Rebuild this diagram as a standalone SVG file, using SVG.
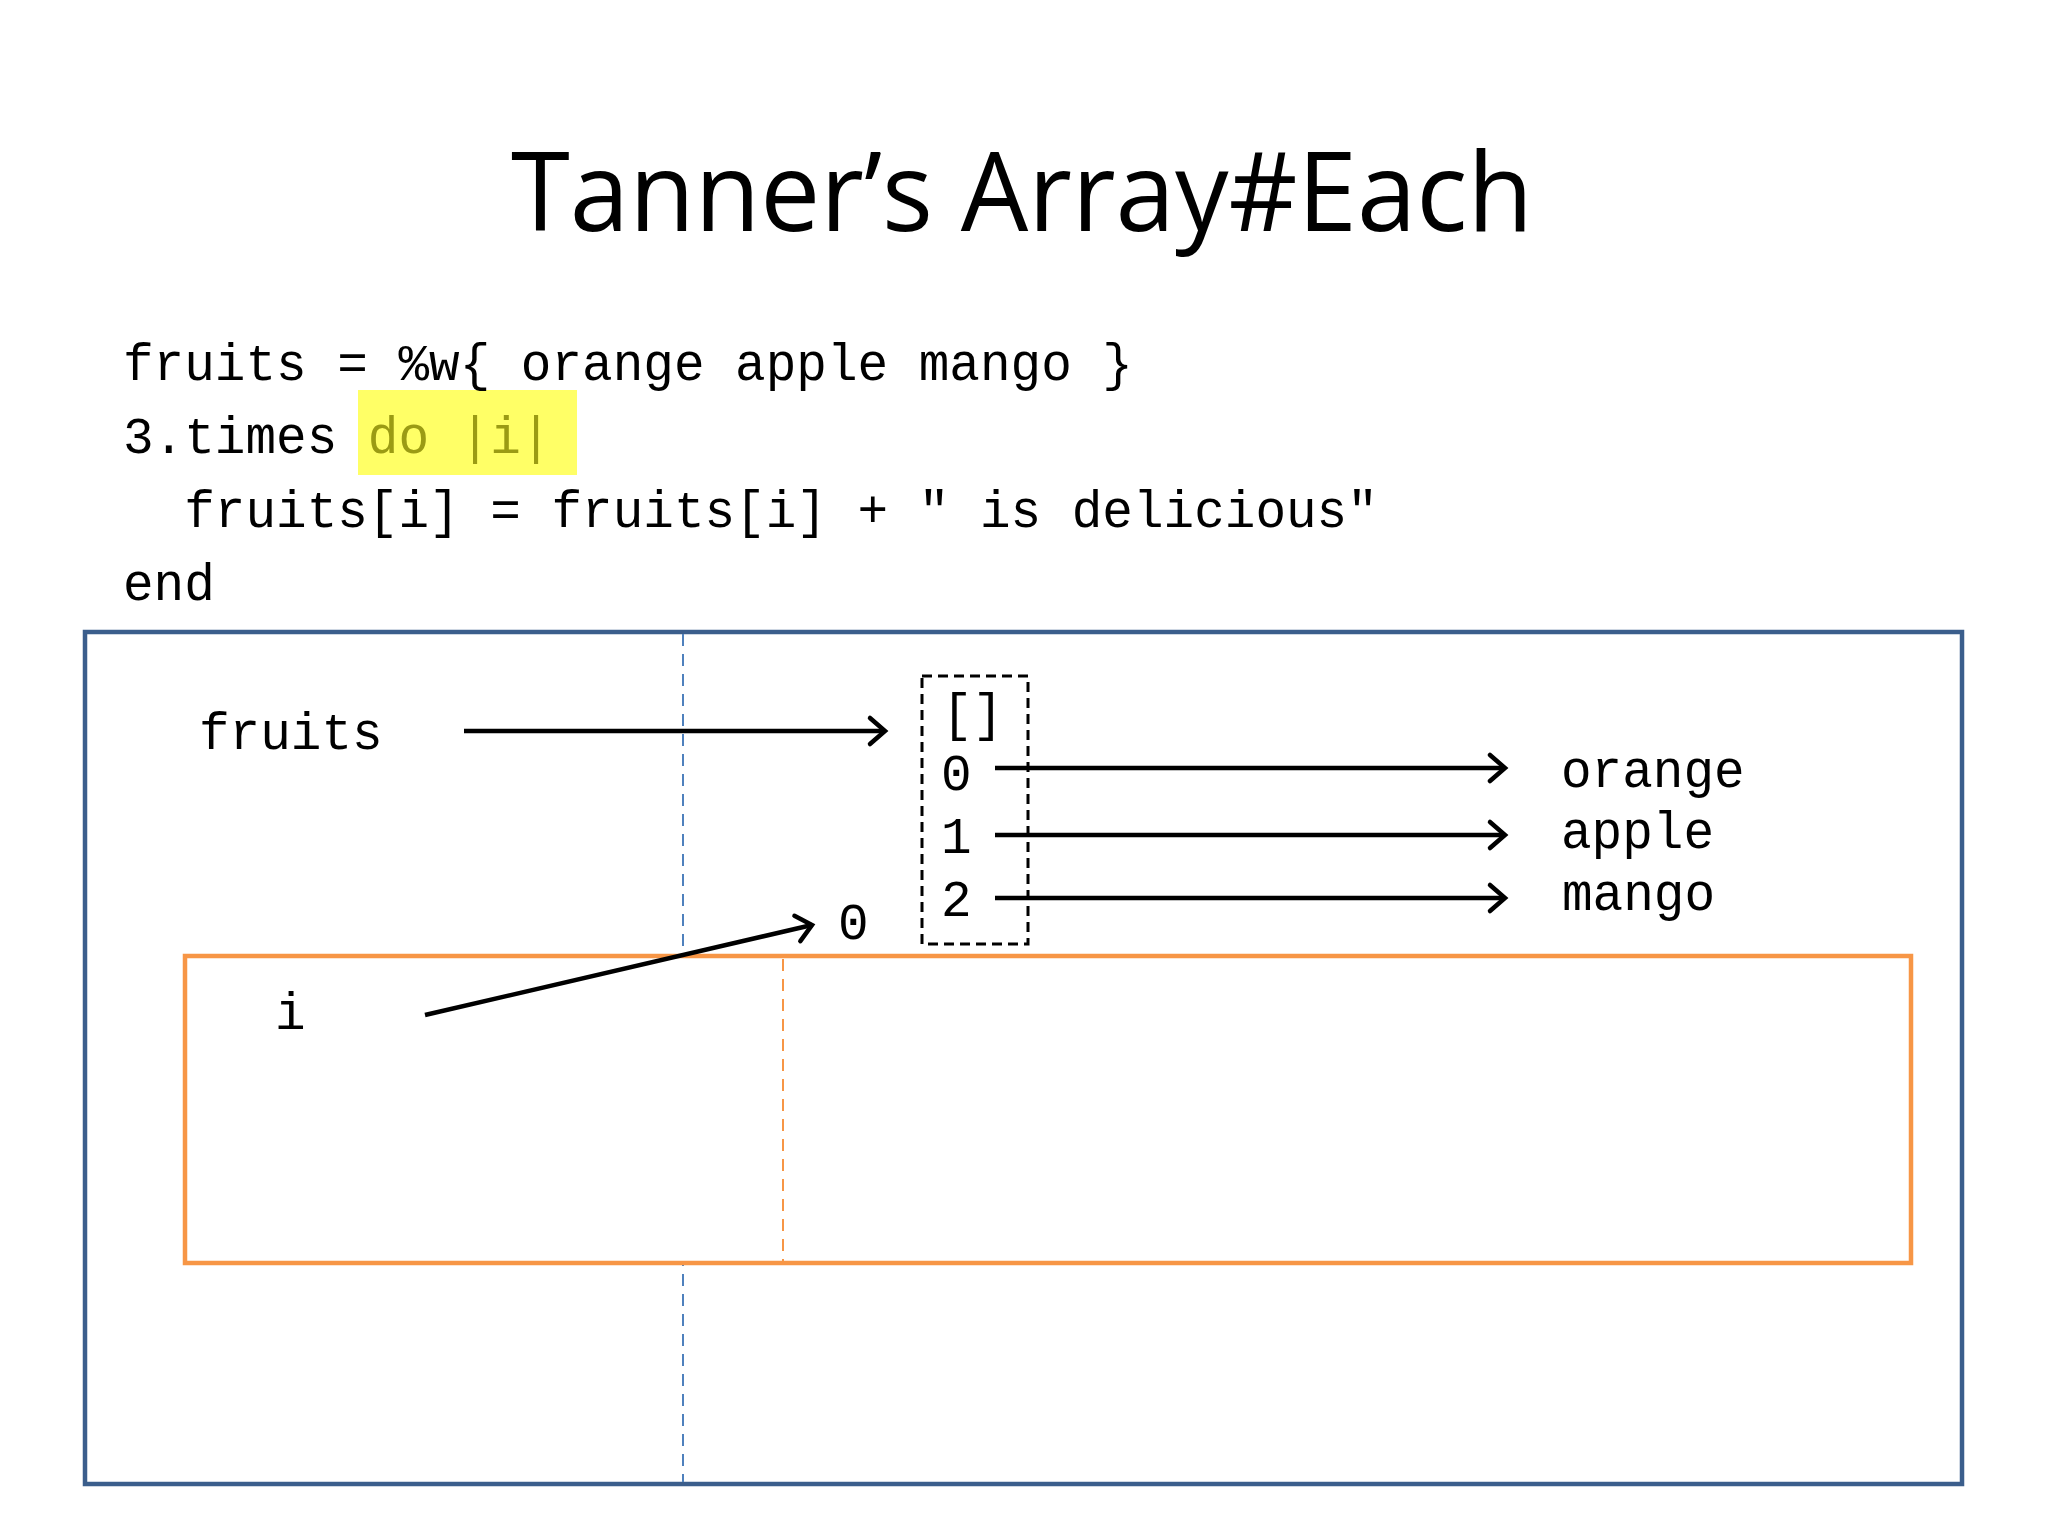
<svg xmlns="http://www.w3.org/2000/svg" width="2048" height="1536" viewBox="0 0 2048 1536">
<defs>
<style>
.mono{font-family:"Liberation Mono","Courier New",monospace;font-size:51px;fill:#000}
.arrow{stroke:#000;stroke-width:4.5;fill:none;marker-end:url(#head)}
</style>
<marker id="head" markerUnits="userSpaceOnUse" markerWidth="40" markerHeight="40" viewBox="-20 -20 40 40" refX="0" refY="0" orient="auto">
<path d="M-15,-13 L0,0 L-15,13" fill="none" stroke="#000" stroke-width="4.5" stroke-linecap="round" stroke-linejoin="miter"/>
</marker>
</defs>
<rect width="2048" height="1536" fill="#fff"/>
<g id="title">
<text x="1022" y="231" text-anchor="middle" font-family="Open Sans, Noto Sans, sans-serif" font-size="110" textLength="1022" lengthAdjust="spacingAndGlyphs" fill="#000">Tanner’s Array#Each</text>
</g>
<g id="code">
<rect x="358" y="390" width="219" height="85" fill="#FFFF66"/>
<text class="mono" x="123" y="380">fruits = %w{ orange apple mango }</text>
<text class="mono" x="123" y="453">3.times <tspan fill="#9B9B14">do |i|</tspan></text>
<text class="mono" x="123" y="527" xml:space="preserve">  fruits[i] = fruits[i] + " is delicious"</text>
<text class="mono" x="123" y="600">end</text>
</g>
<g id="outer-frame">
<rect x="85" y="632" width="1877" height="852" fill="#fff" stroke="#3B5E8C" stroke-width="4.5"/>
<line x1="683" y1="634" x2="683" y2="1482" stroke="#4F81BD" stroke-width="2" stroke-dasharray="12 8"/>
</g>
<g id="block-frame">
<rect x="185" y="956" width="1726" height="307" fill="#fff" stroke="#F79646" stroke-width="4.5"/>
<line x1="783" y1="959" x2="783" y2="1261" stroke="#F79646" stroke-width="2" stroke-dasharray="12 8"/>
</g>
<g id="node-fruits">
<text class="mono" x="199" y="749">fruits</text>
</g>
<g id="node-array">
<rect x="922" y="676" width="106" height="268" fill="none" stroke="#000" stroke-width="3" stroke-dasharray="10 6"/>
<text class="mono" x="942" y="730">[]</text>
<text class="mono" x="941" y="790">0</text>
<text class="mono" x="941" y="853">1</text>
<text class="mono" x="941" y="916">2</text>
</g>
<g id="node-orange"><text class="mono" x="1561" y="787">orange</text></g>
<g id="node-apple"><text class="mono" x="1561" y="848">apple</text></g>
<g id="node-mango"><text class="mono" x="1562" y="910">mango</text></g>
<g id="node-i"><text class="mono" x="275" y="1029">i</text></g>
<g id="node-zero"><text class="mono" x="838" y="939">0</text></g>
<g id="connectors">
<line class="arrow" x1="464" y1="731" x2="885" y2="731"/>
<line class="arrow" x1="995" y1="768" x2="1505" y2="768"/>
<line class="arrow" x1="995" y1="835" x2="1505" y2="835"/>
<line class="arrow" x1="995" y1="898" x2="1505" y2="898"/>
<line class="arrow" x1="425" y1="1015" x2="812" y2="925"/>
</g>
</svg>
